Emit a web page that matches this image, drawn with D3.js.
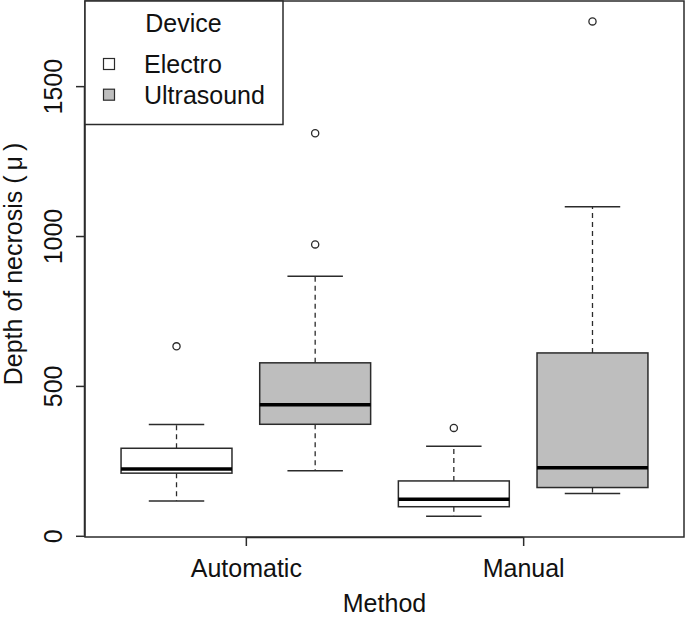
<!DOCTYPE html>
<html>
<head>
<meta charset="utf-8">
<script src="https://cdn.jsdelivr.net/npm/d3@7"></script>
<style>
  body { margin: 0; background: #fff; }
  svg { display: block; font-family: "Liberation Sans", Arial, sans-serif; }
</style>
</head>
<body>
<svg id="chart" width="685" height="618"></svg>
<script>
// ---- data ----
const methods = ["Automatic", "Manual"];
const devices = ["Electro", "Ultrasound"];
const deviceFills = ["#ffffff", "#bebebe"];
// one entry per box, in order: Electro-Automatic, Ultrasound-Automatic, Electro-Manual, Ultrasound-Manual
const boxMethod   = ["Automatic", "Automatic", "Manual", "Manual"];
const boxDevice   = ["Electro", "Ultrasound", "Electro", "Ultrasound"];
const lowWhisker  = [116, 217, 65, 141];
const q1Values    = [209, 372, 97, 161];
const medians     = [223, 437, 122, 227];
const q3Values    = [292, 577, 183, 610];
const highWhisker = [371, 866, 299, 1098];
const outliers    = [[632], [972, 1343], [360], [1716]];
const yTicks = [0, 500, 1000, 1500];

// ---- layout ----
const svg = d3.select("#chart");
const pLeft = 85, pRight = 684, pTop = 1, pBottom = 537;
const lineCol = "#2b2b2b";
const fontSize = 25;

const x = d3.scaleLinear().domain([0.34, 4.66]).range([pLeft, pRight]);
const y = d3.scaleLinear().domain([-4, 1784]).range([pBottom, pTop]);
const boxW = 0.8, capW = 0.4;

const boxes = boxMethod.map((m, i) => ({
  pos: i + 1,
  method: m,
  device: boxDevice[i],
  lo: lowWhisker[i], q1: q1Values[i], med: medians[i], q3: q3Values[i], hi: highWhisker[i],
  out: outliers[i]
}));
const fillOf = d => deviceFills[devices.indexOf(d)];

const g = svg.append("g");

boxes.forEach(b => {
  const cx = x(b.pos);
  g.append("line").attr("x1", cx).attr("x2", cx).attr("y1", y(b.q3)).attr("y2", y(b.hi))
    .attr("stroke", lineCol).attr("stroke-width", 1.3).attr("stroke-dasharray", "5,4");
  g.append("line").attr("x1", cx).attr("x2", cx).attr("y1", y(b.q1)).attr("y2", y(b.lo))
    .attr("stroke", lineCol).attr("stroke-width", 1.3).attr("stroke-dasharray", "5,4");
  [b.lo, b.hi].forEach(v => {
    g.append("line").attr("x1", x(b.pos - capW / 2)).attr("x2", x(b.pos + capW / 2))
      .attr("y1", y(v)).attr("y2", y(v)).attr("stroke", lineCol).attr("stroke-width", 1.5);
  });
  g.append("rect").attr("x", x(b.pos - boxW / 2)).attr("width", x(b.pos + boxW / 2) - x(b.pos - boxW / 2))
    .attr("y", y(b.q3)).attr("height", y(b.q1) - y(b.q3))
    .attr("fill", fillOf(b.device)).attr("stroke", lineCol).attr("stroke-width", 1.5);
  g.append("line").attr("x1", x(b.pos - boxW / 2)).attr("x2", x(b.pos + boxW / 2))
    .attr("y1", y(b.med)).attr("y2", y(b.med)).attr("stroke", "#000").attr("stroke-width", 3.5);
  b.out.forEach(v => {
    g.append("circle").attr("cx", x(b.pos)).attr("cy", y(v)).attr("r", 3.6)
      .attr("fill", "none").attr("stroke", lineCol).attr("stroke-width", 1.3);
  });
});

// frame
svg.append("rect").attr("x", pLeft).attr("y", pTop).attr("width", pRight - pLeft).attr("height", pBottom - pTop)
  .attr("fill", "none").attr("stroke", lineCol).attr("stroke-width", 1.5);

// y axis
const yAxis = d3.axisLeft(y).tickValues(yTicks).tickSize(9).tickFormat(d3.format("d"));
const ya = svg.append("g").attr("transform", `translate(${pLeft},0)`).call(yAxis);
ya.select(".domain").attr("stroke", lineCol).attr("stroke-width", 1.5)
  .attr("d", `M-0.5,${y(yTicks[0])}V${y(yTicks[yTicks.length - 1])}`);
ya.selectAll(".tick line").attr("stroke", lineCol).attr("stroke-width", 1.5);
ya.selectAll(".tick text")
  .attr("font-size", fontSize).attr("font-family", "Liberation Sans, Arial, sans-serif")
  .attr("fill", "#111").attr("text-anchor", "middle").attr("dy", null).attr("x", null)
  .attr("transform", "translate(-23,0) rotate(-90)");

// x axis
const xAxis = d3.axisBottom(x).tickValues([1.5, 3.5]).tickSize(9).tickFormat((d, i) => methods[i]);
const xa = svg.append("g").attr("transform", `translate(0,${pBottom})`).call(xAxis);
xa.select(".domain").attr("stroke", lineCol).attr("stroke-width", 1.5)
  .attr("d", `M${x(1.5)},0.5H${x(3.5)}`);
xa.selectAll(".tick line").attr("stroke", lineCol).attr("stroke-width", 1.5);
xa.selectAll(".tick text")
  .attr("font-size", fontSize).attr("font-family", "Liberation Sans, Arial, sans-serif")
  .attr("fill", "#111").attr("dy", null).attr("y", 40);

// axis titles
svg.append("text").attr("x", (pLeft + pRight) / 2).attr("y", 612).attr("text-anchor", "middle")
  .attr("font-size", fontSize).attr("fill", "#111").text("Method");
svg.append("text").attr("transform", `translate(22,264) rotate(-90)`).attr("text-anchor", "middle")
  .attr("font-size", fontSize).attr("fill", "#111").text("Depth of necrosis (\u2009\u03bc\u2009)");

// legend
const leg = svg.append("g");
leg.append("rect").attr("x", pLeft).attr("y", pTop).attr("width", 283 - pLeft).attr("height", 124.5 - pTop)
  .attr("fill", "#fff").attr("stroke", lineCol).attr("stroke-width", 1.5);
leg.append("text").attr("x", 183.5).attr("y", 32).attr("text-anchor", "middle")
  .attr("font-size", fontSize).attr("fill", "#111").text("Device");
devices.forEach((d, i) => {
  const cy = 64 + i * 30.7;
  leg.append("rect").attr("x", 103.5).attr("y", cy - 5.5).attr("width", 11).attr("height", 11)
    .attr("fill", deviceFills[i]).attr("stroke", lineCol).attr("stroke-width", 1.2);
  leg.append("text").attr("x", 144).attr("y", cy + 9).attr("font-size", fontSize)
    .attr("fill", "#111").text(d);
});
</script>
</body>
</html>
